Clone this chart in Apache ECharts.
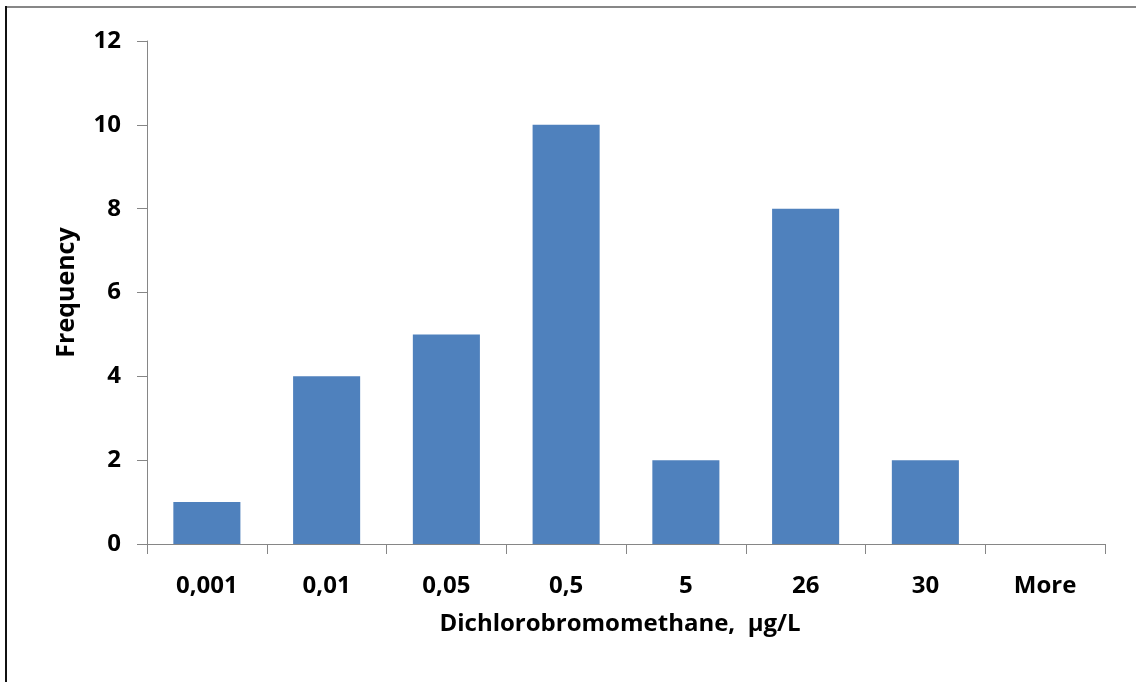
<!DOCTYPE html>
<html>
<head>
<meta charset="utf-8">
<script src="https://cdn.jsdelivr.net/npm/echarts@6/dist/echarts.min.js"></script>
<style>
html,body{margin:0;padding:0;background:#fff;}
#chart{width:1136px;height:682px;}
</style>
</head>
<body>
<div id="chart"></div>
<script>
const categories = ['0,001', '0,01', '0,05', '0,5', '5', '26', '30', 'More'];
const frequency = [1, 4, 5, 10, 2, 8, 2, 0];
const yTicks = { min: 0, max: 12, interval: 2 };
const xAxisTitle = 'Dichlorobromomethane,  µg/L';
const yAxisTitle = 'Frequency';

const FONT = 'Open Sans';
const chart = echarts.init(document.getElementById('chart'), null, { renderer: 'canvas' });
chart.setOption({
  animation: false,
  backgroundColor: '#ffffff',
  grid: { left: 147, right: 31, top: 41, bottom: 138, containLabel: false },
  graphic: [
    { type: 'rect', shape: { x: 5, y: 6, width: 1131, height: 2 }, style: { fill: '#878787' }, silent: true },
    { type: 'rect', shape: { x: 5, y: 6, width: 2, height: 676 }, style: { fill: '#111111' }, silent: true }
  ],
  xAxis: {
    type: 'category',
    data: categories,
    name: xAxisTitle,
    nameLocation: 'middle',
    nameGap: 68,
    nameTextStyle: { fontFamily: FONT, fontWeight: 'bold', fontSize: 24, color: '#000', verticalAlign: 'top', padding: [0, 12, 0, 0] },
    axisLine: { lineStyle: { color: '#868686', width: 1 } },
    axisTick: { show: true, length: 10, alignWithLabel: false, lineStyle: { color: '#868686' } },
    axisLabel: { margin: 30, fontFamily: FONT, fontWeight: 'bold', fontSize: 24, color: '#000', interval: 0 },
    splitLine: { show: false }
  },
  yAxis: {
    type: 'value',
    min: yTicks.min,
    max: yTicks.max,
    interval: yTicks.interval,
    name: yAxisTitle,
    nameLocation: 'middle',
    nameGap: 68,
    nameRotate: 90,
    nameTextStyle: { fontFamily: FONT, fontWeight: 'bold', fontSize: 25, color: '#000' },
    axisLine: { show: true, lineStyle: { color: '#868686', width: 1 } },
    axisTick: { show: true, length: 10, lineStyle: { color: '#868686' } },
    axisLabel: { margin: 26, fontFamily: FONT, fontWeight: 'bold', fontSize: 24, color: '#000' },
    splitLine: { show: false }
  },
  series: [{
    type: 'bar',
    data: frequency,
    barCategoryGap: '44%',
    itemStyle: { color: '#4F81BD' }
  }]
});
</script>
</body>
</html>
